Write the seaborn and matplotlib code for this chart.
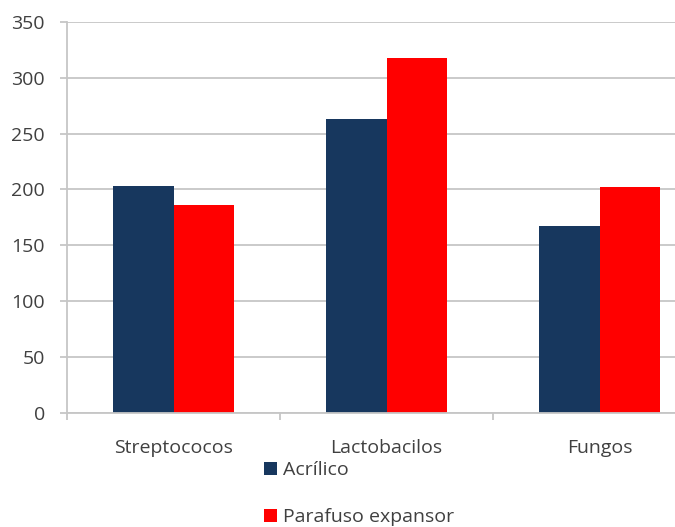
import matplotlib
matplotlib.use("Agg")
import matplotlib.pyplot as plt
import seaborn as sns
import pandas as pd
from matplotlib.patches import Patch

categories = ["Streptococos", "Lactobacilos", "Fungos"]
series_names = ["Acrílico", "Parafuso expansor"]
acrilico = [203, 263, 167]
parafuso = [186, 318, 202]
yticks = [0, 50, 100, 150, 200, 250, 300, 350]

colors = ["#17375E", "#FF0000"]

df = pd.DataFrame({
    "cat": categories * 2,
    "serie": [series_names[0]] * 3 + [series_names[1]] * 3,
    "val": acrilico + parafuso,
})

sns.set_style("white")
plt.rcParams["font.family"] = ["Open Sans", "DejaVu Sans"]
txt = "#404040"
grid = "#C6C6C6"
fs = 14

fig = plt.figure(figsize=(6.75, 5.27), dpi=100)
ax = fig.add_axes([67 / 675, 1 - 412.7 / 527, (706 - 67) / 675, (412.7 - 22) / 527])

sns.barplot(data=df, x="cat", y="val", hue="serie", palette=colors,
            width=0.57, gap=0, saturation=1, ax=ax, legend=False,
            edgecolor="none", linewidth=0)

ax.set_ylim(0, 350)
ax.set_xlim(-0.5, 2.5)
ax.set_yticks(yticks)
ax.set_yticklabels([str(v) for v in yticks])
ax.yaxis.grid(True, color=grid, linewidth=1.3)
ax.set_axisbelow(True)
ax.set_xlabel("")
ax.set_ylabel("")

for s in ["top", "right"]:
    ax.spines[s].set_visible(False)
for s in ["left", "bottom"]:
    ax.spines[s].set_color(grid)
    ax.spines[s].set_linewidth(1.3)

ax.tick_params(axis="y", left=True, length=5, width=1.3, color=grid,
               labelsize=fs, labelcolor=txt, pad=11)
ax.set_xticks([0, 1, 2])
ax.set_xticklabels(categories)
ax.set_xticks([-0.5, 0.5, 1.5, 2.5], minor=True)
ax.tick_params(axis="x", which="major", length=0, labelsize=fs,
               labelcolor=txt, pad=19)
ax.tick_params(axis="x", which="minor", bottom=True, length=5, width=1.3,
               color=grid, direction="out")

handles = [Patch(facecolor=c, edgecolor="none") for c in colors]
fig.legend(handles, series_names, loc="upper left",
           bbox_to_anchor=(260 / 675, 1 - 457 / 527), frameon=False,
           fontsize=fs, labelcolor=txt, handlelength=0.65, handleheight=0.65,
           handletextpad=0.35, labelspacing=1.5, borderaxespad=0, borderpad=0.2)

fig.savefig("out.png", dpi=100)
